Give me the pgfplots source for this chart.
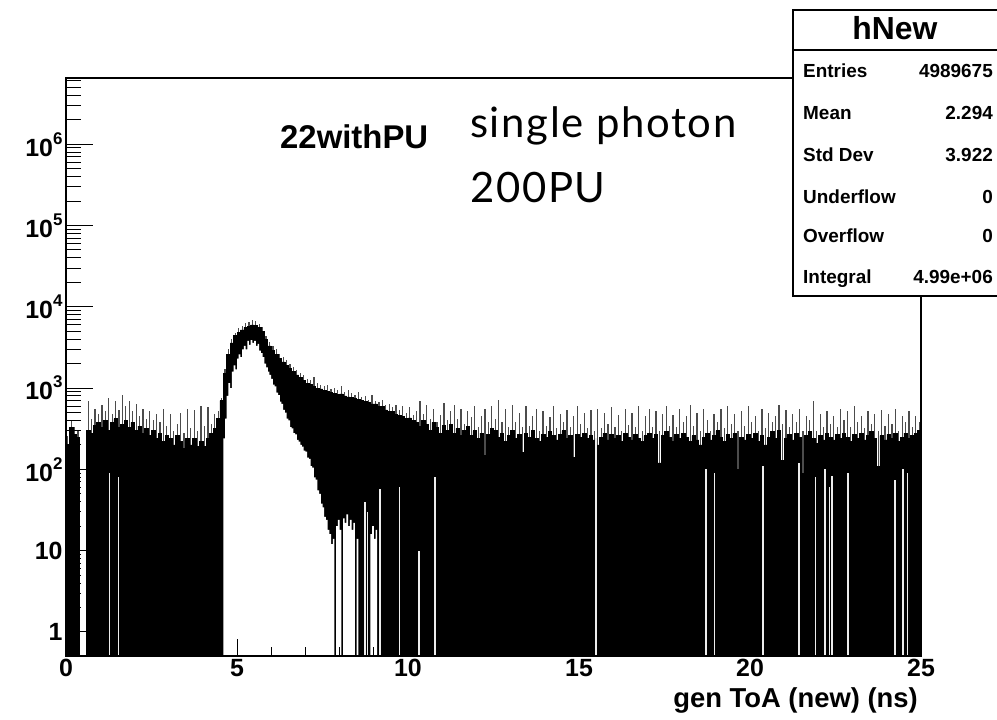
\documentclass[border=0pt]{standalone}
\usepackage{fontspec}
\setmainfont{Liberation Sans}
\newfontfamily\latofont{Lato}[LetterSpace=4]
\usepackage{pgfplots}
\usepackage{pgfplotstable}
\pgfplotsset{compat=1.18}

\pgfplotstableread{
x t s
0.0 0.1 0.1
0.0 200 260
0.1 330 400
0.2 270 330
0.3 250 300
0.4 0.1 0.1
0.5 0.1 0.1
0.6 300 700
0.7 280 420
0.8 350 560
0.9 380 480
1.0 330 620
1.1 400 520
1.2 300 760
1.3 380 480
1.4 420 700
1.5 330 540
1.6 360 820
1.7 400 600
1.8 330 700
1.9 380 520
2.0 300 640
2.1 340 460
2.2 280 560
2.3 320 420
2.4 260 520
2.5 300 400
2.6 240 480
2.7 280 380
2.8 220 560
2.9 260 340
3.0 240 480
3.1 200 300
3.2 260 360
3.3 220 500
3.4 180 280
3.5 240 560
3.6 200 320
3.7 240 540
3.8 190 300
3.9 220 600
4.0 190 340
4.1 240 580
4.2 280 360
4.3 320 480
4.4 420 520
4.5 700 760
4.6 1500 1700
4.7 2600 3000
4.8 3600 4000
4.9 4400 4800
5.0 4800 5500
5.1 5200 5800
5.2 5600 6300
5.3 5800 6500
5.4 6000 6800
5.5 5900 6700
5.6 5600 6200
5.7 5000 5600
5.8 4000 4400
5.9 3300 3700
6.0 2900 3300
6.1 2600 3000
6.2 2300 2600
6.3 2100 2400
6.4 1900 2200
6.5 1750 2000
6.6 1600 1800
6.7 1450 1650
6.8 1350 1550
6.9 1250 1450
7.0 1150 1300
7.1 1100 1250
7.2 1050 1350
7.3 1000 1150
7.4 980 1100
7.5 930 1050
7.6 920 1100
7.7 880 980
7.8 860 1000
7.9 830 950
8.0 850 1050
8.1 800 900
8.2 780 950
8.3 760 880
8.4 740 830
8.5 720 900
8.6 700 780
8.7 680 800
8.8 660 720
8.9 640 820
9.0 640 700
9.1 600 680
9.2 600 720
9.3 540 620
9.4 520 640
9.5 520 580
9.6 480 620
9.7 460 540
9.8 450 600
9.9 420 500
10.0 430 580
10.1 400 470
10.2 380 520
10.3 340 700
10.4 400 480
10.5 360 620
10.6 300 420
10.7 380 560
10.8 330 380
10.9 280 470
11.0 350 650
11.1 300 400
11.2 360 520
11.3 280 620
11.4 320 420
11.5 260 560
11.6 300 360
11.7 340 520
11.8 260 440
11.9 300 600
12.0 240 330
12.1 280 460
12.2 150 560
12.3 270 380
12.4 320 600
12.5 300 420
12.6 250 720
12.7 280 380
12.8 220 560
12.9 260 330
13.0 300 620
13.1 240 380
13.2 270 500
13.3 160 330
13.4 280 600
13.5 250 340
13.6 300 460
13.7 240 560
13.8 220 300
13.9 270 520
14.0 250 340
14.1 290 440
14.2 260 600
14.3 230 320
14.4 270 480
14.5 300 380
14.6 240 540
14.7 260 330
14.8 140 460
14.9 270 600
15.0 250 360
15.1 280 500
15.2 240 320
15.3 260 540
15.4 230 300
15.5 200 560
15.6 250 320
15.7 280 500
15.8 230 360
15.9 270 580
16.0 240 330
16.1 260 470
16.2 220 300
16.3 280 560
16.4 250 350
16.5 230 500
16.6 270 330
16.7 240 600
16.8 220 300
16.9 260 450
17.0 280 560
17.1 240 330
17.2 270 520
17.3 120 300
17.4 260 480
17.5 290 600
17.6 250 340
17.7 220 470
17.8 270 330
17.9 240 560
18.0 280 380
18.1 250 460
18.2 220 620
18.3 260 340
18.4 230 500
18.5 200 300
18.6 250 560
18.7 280 400
18.8 230 300
18.9 260 480
19.0 300 380
19.1 250 560
19.2 220 320
19.3 270 600
19.4 240 360
19.5 280 480
19.6 100 300
19.7 250 520
19.8 230 340
19.9 270 600
20.0 240 380
20.1 280 460
20.2 220 300
20.3 260 560
20.4 200 320
20.5 250 500
20.6 290 380
20.7 240 460
20.8 300 620
20.9 130 360
21.0 240 540
21.1 270 330
21.2 230 480
21.3 280 380
21.4 250 560
21.5 90 300
21.6 260 460
21.7 290 400
21.8 240 700
21.9 210 300
22.0 260 480
22.1 230 330
22.2 280 520
22.3 250 360
22.4 230 460
22.5 270 330
22.6 240 560
22.7 280 400
22.8 250 520
22.9 220 330
23.0 270 600
23.1 240 380
23.2 280 460
23.3 230 320
23.4 260 520
23.5 290 360
23.6 240 480
23.7 110 300
23.8 260 540
23.9 230 340
24.0 270 480
24.1 240 360
24.2 280 560
24.3 220 300
24.4 250 460
24.5 280 380
24.6 240 520
24.7 260 330
24.8 280 460
24.9 300 380
25.0 300 0.1
25.0 0.1 0.1
}\histdata

\pgfplotstableread{
x h
4.60 0.1
4.60 240
4.65 420
4.70 800
4.75 1150
4.80 1000
4.85 1600
4.90 1900
4.95 1700
5.00 2300
5.05 2600
5.10 2400
5.15 3000
5.20 3300
5.25 3000
5.30 3800
5.35 3400
5.40 3900
5.45 3600
5.50 3800
5.55 3300
5.60 3500
5.65 2900
5.70 2700
5.75 2400
5.80 2000
5.85 1800
5.90 1600
5.95 1450
6.00 1300
6.05 1100
6.10 1050
6.15 880
6.20 820
6.25 680
6.30 640
6.35 540
6.40 500
6.45 420
6.50 400
6.55 330
6.60 320
6.65 280
6.70 270
6.75 230
6.80 220
6.85 200
6.90 190
6.95 170
7.00 165
7.05 140
7.10 135
7.15 110
7.20 105
7.25 80
7.30 75
7.35 55
7.40 50
7.45 38
7.50 34
7.55 26
7.60 24
7.65 18
7.70 16
7.75 12
7.80 14
7.85 0.1
7.90 20
7.95 24
8.00 18
8.05 0.1
8.10 25
8.15 22
8.20 28
8.25 20
8.30 24
8.35 18
8.40 22
8.45 0.1
8.50 14
8.55 0.1
8.90 16
8.95 20
9.00 14
9.05 18
9.10 0.1
}\holedata

\pgfplotstableread{
x h
1.27 90
1.53 80
8.74 40
8.82 30
9.18 57
9.75 60
10.32 10
10.79 80
15.49 240
18.72 100
18.96 90
20.38 110
21.43 120
21.92 80
22.19 100
22.32 60
22.40 82
22.86 90
24.24 75
24.48 100
24.60 90
}\gapdata

\begin{document}
\begin{tikzpicture}
\useasboundingbox (0,0) rectangle (997bp,720bp);
\fill[white] (0,0) rectangle (997bp,720bp);
\begin{axis}[
  at={(66bp,64bp)}, anchor=south west,
  width=855bp, height=578bp, scale only axis,
  xmin=0, xmax=25, ymin=0.506, ymax=6.53e6,
  ymode=log, log origin=infty,
  axis on top,
  tick pos=left, tick align=inside,
  xtick={0,5,10,15,20,25}, xticklabels={0,5,10,15,20,25},
  minor x tick num=4,
  ytick={1,10,100,1000,10000,100000,1000000},
  yticklabels={1,10,
    {10\raisebox{0.48em}{\fontsize{17}{17}\selectfont 2}},
    {10\raisebox{0.48em}{\fontsize{17}{17}\selectfont 3}},
    {10\raisebox{0.48em}{\fontsize{17}{17}\selectfont 4}},
    {10\raisebox{0.48em}{\fontsize{17}{17}\selectfont 5}},
    {10\raisebox{0.48em}{\fontsize{17}{17}\selectfont 6}}},
  minor ytick={2,3,4,5,6,7,8,9,20,30,40,50,60,70,80,90,200,300,400,500,600,700,800,900,2000,3000,4000,5000,6000,7000,8000,9000,2e4,3e4,4e4,5e4,6e4,7e4,8e4,9e4,2e5,3e5,4e5,5e5,6e5,7e5,8e5,9e5,2e6,3e6,4e6,5e6,6e6},
  major tick length=27bp, minor tick length=15bp,
  xtick style={/pgfplots/major tick length=17bp, /pgfplots/minor tick length=9bp},
  tick style={line width=1bp, black},
  axis line style={line width=1.2bp},
  ticklabel style={font=\bfseries\fontsize{25}{25}\selectfont},
  xlabel={gen ToA (new) (ns)},
  xlabel style={at={(rel axis cs:1,0)}, anchor=base east, inner sep=0pt,
    yshift=-51bp, xshift=-3bp, font=\bfseries\fontsize{27.5}{27.5}\selectfont},
]
\addplot[ycomb, black!70, line width=1.2bp, no markers] table[x expr=\thisrow{x}+0.05, y=s] {\histdata};
\addplot[const plot, fill=black, draw=black, line width=0.6bp, no markers] table[x=x, y=t] {\histdata};
\addplot[const plot, fill=white, draw=none, no markers] table[x=x, y=h] {\holedata};
\addplot[ycomb, gray!15, line width=1.5bp, no markers] table[x=x, y=h] {\gapdata};
\end{axis}
\node[anchor=base west, inner sep=0pt, font=\bfseries\fontsize{33}{33}\selectfont] at (280bp,571bp) {22withPU};
\node[anchor=base west, inner sep=0pt, font=\latofont\fontsize{42}{42}\selectfont] at (470bp,582bp) {single photon};
\node[anchor=base west, inner sep=0pt, font=\latofont\fontsize{42}{42}\selectfont] at (470bp,517bp) {200PU};
% stats box
\draw[line width=1.2bp, fill=white] (793bp,424bp) rectangle (999bp,710bp);
\draw[line width=1.2bp] (793bp,670bp) -- (999bp,670bp);
\node[anchor=base, inner sep=0pt, font=\bfseries\fontsize{32}{32}\selectfont] at (895bp,680bp) {hNew};
\begin{scope}[every node/.style={inner sep=0pt, font=\bfseries\fontsize{19}{19}\selectfont}]
\node[anchor=base west] at (803bp,642.7bp) {Entries};
\node[anchor=base east] at (993bp,642.7bp) {4989675};
\node[anchor=base west] at (803bp,600bp) {Mean};
\node[anchor=base east] at (993bp,600bp) {2.294};
\node[anchor=base west] at (803bp,558bp) {Std Dev};
\node[anchor=base east] at (993bp,558bp) {3.922};
\node[anchor=base west] at (803bp,516bp) {Underflow};
\node[anchor=base east] at (993bp,516bp) {0};
\node[anchor=base west] at (803bp,477bp) {Overflow};
\node[anchor=base east] at (993bp,477bp) {0};
\node[anchor=base west] at (803bp,436bp) {Integral};
\node[anchor=base east] at (993bp,436bp) {4.99e+06};
\end{scope}
\end{tikzpicture}
\end{document}
